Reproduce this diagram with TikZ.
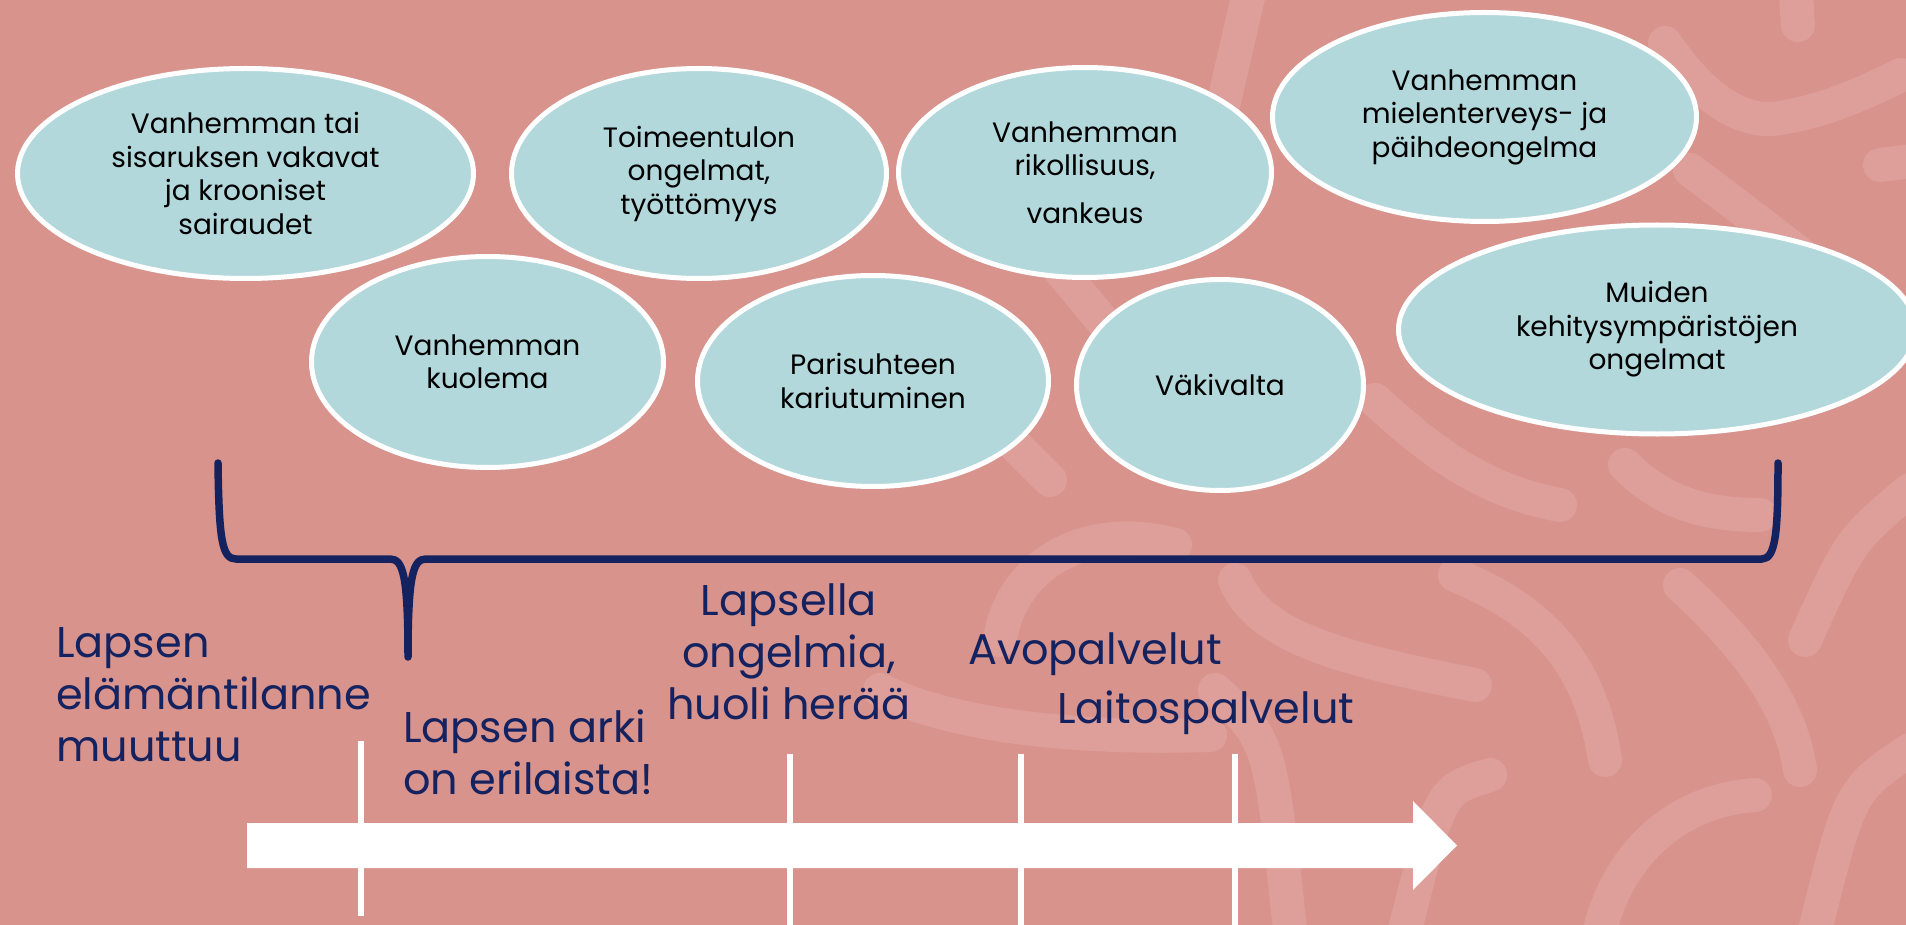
\documentclass[tikz,border=0pt]{standalone}
\usepackage{fontspec}
\setmainfont{Poppins}
\usetikzlibrary{shapes.geometric}
\definecolor{bgpink}{HTML}{D9938D}
\definecolor{brushpink}{HTML}{DE9F9A}
\definecolor{bubblefill}{HTML}{B2D8DC}
\definecolor{navy}{HTML}{14225F}
\tikzset{
	bubble/.style={ellipse, draw=white, line width=5pt, fill=bubblefill, inner sep=0pt, align=center, font=\fontsize{28}{33.5}\selectfont},
	stage/.style={text=navy, inner sep=0pt, font=\fontsize{43}{52}\selectfont},
	brush/.style={draw=brushpink, line width=34pt, line cap=round},
	tickline/.style={draw=white, line width=5.5pt}
}
\begin{document}
\begin{tikzpicture}[x=1pt,y=-1pt]
			\fill[bgpink] (0,0) rectangle (1906,925);
			\useasboundingbox (0,0) rectangle (1906,925);
			% background brush strokes
			\draw[brush] (1252,-20) -- (1222,110);
			\draw[brush] (1795,-20) -- (1798,25);
			\draw[brush] (1665,43) .. controls (1700,95) and (1740,125) .. (1780,118) .. controls (1830,110) and (1870,90) .. (1901,75);
			\draw[brush] (1880,165) -- (1920,160);
			\draw[brush] (1690,170) .. controls (1730,200) .. (1860,300);
			\draw[brush] (1625,465) .. controls (1660,500) and (1700,515) .. (1760,515);
			\draw[brush] (1375,400) .. controls (1430,450) and (1480,490) .. (1560,505);
			\draw[brush] (1455,575) .. controls (1540,610) and (1590,660) .. (1605,760);
			\draw[brush] (1235,580) .. controls (1260,640) and (1350,660) .. (1475,685);
			\draw[brush] (1680,585) .. controls (1740,640) and (1790,700) .. (1800,770);
			\draw[brush] (1910,490) .. controls (1850,540) .. (1805,640);
			\draw[brush] (1755,795) .. controls (1680,800) and (1620,850) .. (1600,930);
			\draw[brush] (1490,775) .. controls (1440,790) .. (1405,930);
			\draw[brush] (1910,750) .. controls (1850,790) .. (1815,930);
			\draw[brush] (880,690) .. controls (940,720) and (1050,740) .. (1210,735);
			\draw[brush] (1175,545) .. controls (1080,520) and (1010,570) .. (1000,640);
			\draw[brush] (1215,690) .. controls (1270,740) .. (1290,930);
			\draw[brush] (1010,440) -- (1050,480);
			\draw[brush] (1060,270) -- (1110,330);
			% bubbles
			\node[bubble, minimum width=456pt, minimum height=210pt] (illness) at (245.5,173.5) {Vanhemman tai\\sisaruksen vakavat\\ja krooniset\\sairaudet};
			\node[bubble, minimum width=375pt, minimum height=210pt] (income) at (699,173.5) {Toimeentulon\\ongelmat,\\työttömyys};
			\node[bubble, minimum width=352pt, minimum height=211pt] (death) at (487.5,362) {Vanhemman\\kuolema};
			\node[bubble, minimum width=351pt, minimum height=211pt] (divorce) at (873,381) {Parisuhteen\\kariutuminen};
			\node[bubble, minimum width=373pt, minimum height=210pt] (crime) at (1085,172.5) {Vanhemman\\rikollisuus,\\[14pt]vankeus};
			\node[bubble, minimum width=424pt, minimum height=209pt] (mental) at (1484.5,117) {Vanhemman\\mielenterveys- ja\\päihdeongelma};
			\node[bubble, minimum width=287pt, minimum height=211pt] (violence) at (1220,385) {Väkivalta};
			\node[bubble, minimum width=517pt, minimum height=209pt] (other) at (1657,329.5) {Muiden\\kehitysympäristöjen\\ongelmat};
			% brace
			\draw[navy, line width=7.5pt, line join=round, line cap=round] (218,463) .. controls (219,540) and (222,559) .. (236,559) -- (390,559) .. controls (403,559) and (408,575) .. (408,657) .. controls (408,575) and (413,559) .. (426,559) -- (1762,559) .. controls (1776,559) and (1778,530) .. (1778,463);
			% timeline
			\fill[white] (247,823) -- (1413,823) -- (1413,801) -- (1457,845.5) -- (1413,890) -- (1413,868) -- (247,868) -- cycle;
			\foreach \x/\ya/\yb in {361/741/916, 790/754/925, 1021/754/925, 1235/754/925}
			\draw[tickline] (\x,\ya)--(\x,\yb);
			\node[stage, align=left, anchor=south west] (change) at (56,762) {Lapsen\\elämäntilanne\\muuttuu};
			\node[stage, align=left, anchor=south west] (everyday) at (403,795) {Lapsen arki\\on erilaista!};
			\node[stage, align=center, anchor=south] (worry) at (789,720) {Lapsella\\ongelmia,\\huoli herää};
			\node[stage, anchor=base west] (opencare) at (968,664) {Avopalvelut};
			\node[stage, anchor=base west] (instcare) at (1057,723) {Laitospalvelut};
\end{tikzpicture}
\end{document}
